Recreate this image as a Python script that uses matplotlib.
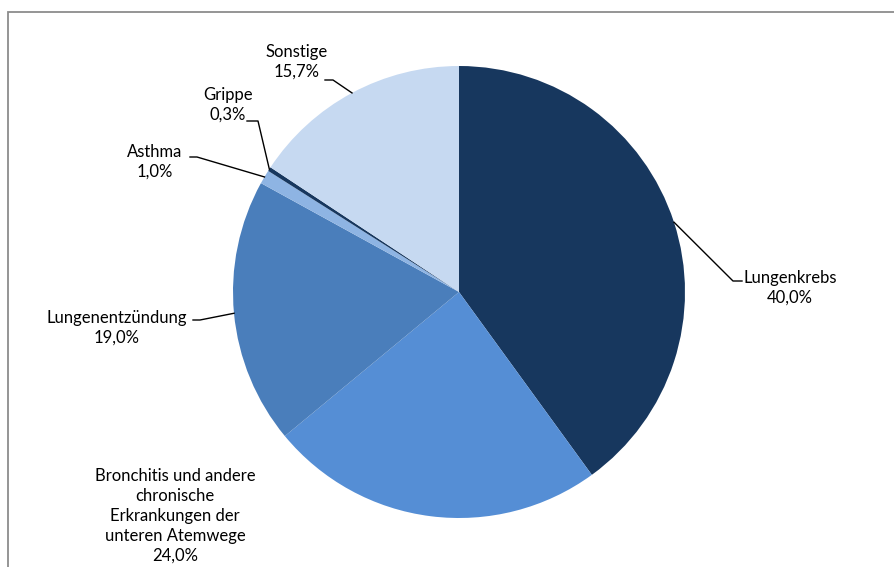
import numpy as np
import matplotlib.pyplot as plt
from matplotlib.patches import Rectangle

plt.rcParams['font.family'] = ['Lato', 'DejaVu Sans']

labels = ["Lungenkrebs", "Bronchitis und andere\nchronische\nErkrankungen der\nunteren Atemwege",
          "Lungenentzündung", "Asthma", "Grippe", "Sonstige"]
values = [40.0, 24.0, 19.0, 1.0, 0.3, 15.7]
colors = ["#17375E", "#558ED5", "#4A7EBB", "#8EB4E3", "#17375E", "#C6D9F1"]

W, H = 894, 567
fig = plt.figure(figsize=(W / 100, H / 100), dpi=100)
ax = fig.add_axes([0, 0, 1, 1])

# outer chart frame (partly outside the picture)
fig.patches.append(Rectangle((8 / W, -0.1), 1.1, (H - 12) / H + 0.1, transform=fig.transFigure,
                             fill=False, edgecolor="#8c8c8c", linewidth=1.3))

cx, cy, r = 459, H - 292, 226
wedges, _ = ax.pie(values, colors=colors, startangle=90, counterclock=False,
                   center=(cx, cy), radius=r, wedgeprops=dict(linewidth=0),
                   frame=True)
ax.set_xlim(0, W)
ax.set_ylim(0, H)
ax.set_aspect('equal')
ax.axis('off')

# label text center, leader line start and elbow (px from top-left)
label_pos = {
    0: ((790, 288), (742, 281), (733, 281)),
    1: ((175, 516), None, None),
    2: ((117, 328), (193, 320), (200, 320)),
    3: ((155, 162), (190, 157), (197, 157)),
    4: ((228, 105), (247, 121), (258, 121)),
    5: ((297, 62), (325, 80), (333, 80)),
}

for i, w in enumerate(wedges):
    (tx, ty), p0, p1 = label_pos[i]
    txt = f"{labels[i]}\n{values[i]:.1f}%".replace(".", ",")
    ax.text(tx, H - ty, txt, ha='center', va='center', fontsize=12,
            color="black", linespacing=1.3)
    if p0 is not None:
        ang = np.deg2rad((w.theta1 + w.theta2) / 2)
        ex, ey = cx + r * np.cos(ang), cy + r * np.sin(ang)
        ax.plot([p0[0], p1[0], ex], [H - p0[1], H - p1[1], ey], color="black", lw=1)

fig.savefig("out.png", dpi=100)
